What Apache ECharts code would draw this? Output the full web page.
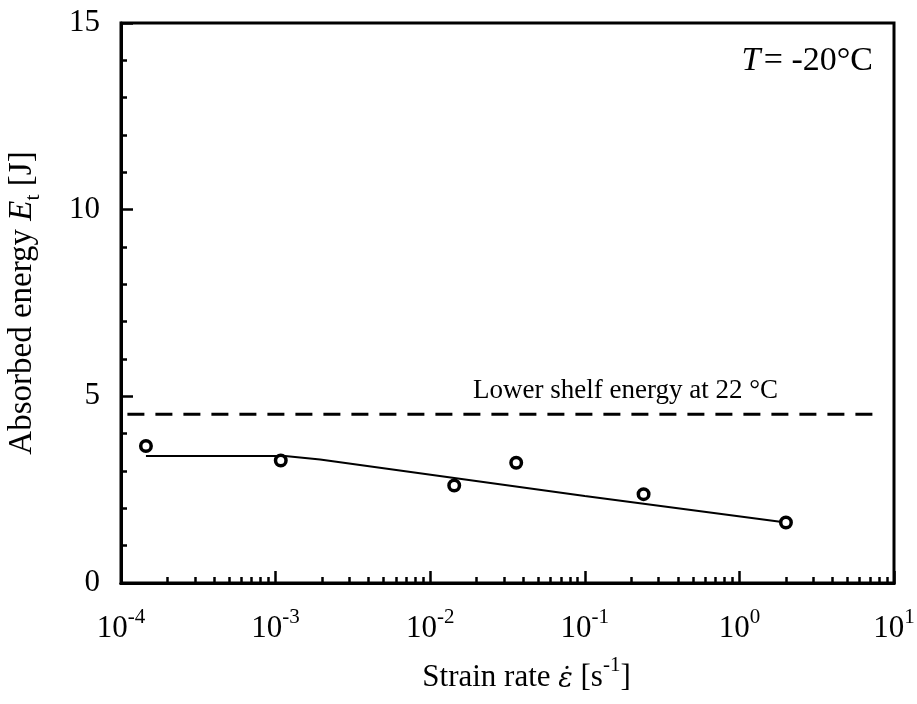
<!DOCTYPE html>
<html>
<head>
<meta charset="utf-8">
<script src="https://cdn.jsdelivr.net/npm/echarts@6/dist/echarts.min.js"></script>
<style>
  html, body { margin: 0; padding: 0; background: #fff; }
  #chart { width: 917px; height: 704px; }
</style>
</head>
<body>
<div id="chart"></div>
<script>
// Measured absorbed energy vs strain rate at T = -20 °C
const strainRates = [1.45e-4, 1.08e-3, 1.43e-2, 3.6e-2, 2.4e-1, 2.0];
const energies    = [3.67, 3.28, 2.61, 3.22, 2.38, 1.62];

// Fitted trend curve
const fitRates    = [1.45e-4, 1.15e-3, 1.94e-3, 1.0e-1, 2.0];
const fitEnergies = [3.40, 3.40, 3.31, 2.33, 1.62];

// Lower shelf energy at 22 °C (dashed reference)
const shelfEnergy = 4.52;
const shelfRates  = [1.1e-4, 8.4];

// Axis ticks
const decadeTicks = [1e-4, 1e-3, 1e-2, 1e-1, 1, 10];
const energyTicks = [0, 5, 10, 15];

const minorRates = [];
for (let d = 0; d < decadeTicks.length - 1; d++) {
  for (let m = 2; m <= 9; m++) minorRates.push(m * decadeTicks[d]);
}

const FONT = '"Liberation Serif", "Times New Roman", serif';
const chart = echarts.init(document.getElementById('chart'), null, { renderer: 'canvas' });

const baseX = {
  type: 'log', logBase: 10, min: 1e-4, max: 10, position: 'bottom',
  gridIndex: 0, splitLine: { show: false },
  axisLine: { show: true, onZero: false, lineStyle: { color: '#000', width: 3 } }
};

chart.setOption({
  animation: false,
  backgroundColor: '#fff',
  grid: { left: 121, top: 23, right: 23, bottom: 121, show: true,
          containLabel: false, outerBoundsMode: 'none',
          borderColor: '#000', borderWidth: 3, backgroundColor: 'transparent' },
  xAxis: [
    Object.assign({}, baseX, {
      axisTick: { show: true, inside: true, length: 12, customValues: decadeTicks,
                  lineStyle: { color: '#000', width: 2.5 } },
      axisLabel: {
        show: true, customValues: decadeTicks, margin: 24,
        formatter: v => '{b|10}{s|' + Math.round(Math.log10(v)) + '}',
        rich: {
          b: { fontFamily: FONT, fontSize: 31, color: '#000', lineHeight: 37, verticalAlign: 'bottom' },
          s: { fontFamily: FONT, fontSize: 21, color: '#000', lineHeight: 21, verticalAlign: 'top' }
        }
      },
      name: '{n|Strain rate }{e|ε̇}{n| [s}{s|-1}{n|]}',
      nameLocation: 'middle', nameGap: 72,
      nameTextStyle: {
        padding: [0, 0, 0, 38],
        rich: {
          n: { fontFamily: FONT, fontSize: 31, color: '#000', lineHeight: 38, verticalAlign: 'bottom' },
          e: { fontFamily: '"DejaVu Serif", serif', fontSize: 27, fontStyle: 'italic', color: '#000', lineHeight: 38, verticalAlign: 'bottom' },
          s: { fontFamily: FONT, fontSize: 21, color: '#000', lineHeight: 21, verticalAlign: 'top' }
        }
      }
    }),
    Object.assign({}, baseX, {
      axisTick: { show: true, inside: true, length: 6, customValues: minorRates,
                  lineStyle: { color: '#000', width: 2.5 } },
      axisLabel: { show: false }
    })
  ],
  yAxis: {
    type: 'value', min: 0, max: 15, interval: 5,
    axisLine: { show: true, onZero: false, lineStyle: { color: '#000', width: 3 } },
    axisTick: { show: true, inside: true, length: 12, lineStyle: { color: '#000', width: 2.5 } },
    minorTick: { show: true, splitNumber: 5, length: 6, lineStyle: { color: '#000', width: 2.5 } },
    splitLine: { show: false },
    axisLabel: { fontFamily: FONT, fontSize: 31, color: '#000', margin: 21 },
    name: '{n|Absorbed energy }{i|E}{t|t}{n| [J]}',
    nameLocation: 'middle', nameGap: 77,
    nameTextStyle: {
      rich: {
        n: { fontFamily: FONT, fontSize: 33, color: '#000', lineHeight: 38, verticalAlign: 'top' },
        i: { fontFamily: FONT, fontSize: 33, fontStyle: 'italic', color: '#000', lineHeight: 38, verticalAlign: 'top' },
        t: { fontFamily: FONT, fontSize: 22, color: '#000', lineHeight: 22, verticalAlign: 'bottom' }
      }
    }
  },
  series: [
    {
      type: 'line', xAxisIndex: 0, data: shelfRates.map(r => [r, shelfEnergy]),
      symbol: 'none', silent: true,
      lineStyle: { color: '#000', width: 3, type: [17, 11] }, z: 2
    },
    {
      type: 'line', xAxisIndex: 0, data: fitRates.map((r, i) => [r, fitEnergies[i]]),
      symbol: 'none', silent: true,
      lineStyle: { color: '#000', width: 2 }, z: 3
    },
    {
      type: 'scatter', xAxisIndex: 0, data: strainRates.map((r, i) => [r, energies[i]]),
      symbol: 'circle', symbolSize: 10.5,
      itemStyle: { color: '#fff', borderColor: '#000', borderWidth: 3.5, opacity: 1 }, z: 4
    }
  ],
  graphic: [
    {
      type: 'text', left: 473, top: 377,
      style: { text: 'Lower shelf energy at 22 °C', font: '27px ' + FONT, fill: '#000' }
    },
    {
      type: 'text', right: 44, top: 44,
      style: {
        text: '{i|T} {n|= -20°C}',
        rich: {
          i: { fontFamily: FONT, fontSize: 34, fontStyle: 'italic', fill: '#000' },
          n: { fontFamily: FONT, fontSize: 34, fill: '#000' }
        }
      }
    }
  ]
});
</script>
</body>
</html>
